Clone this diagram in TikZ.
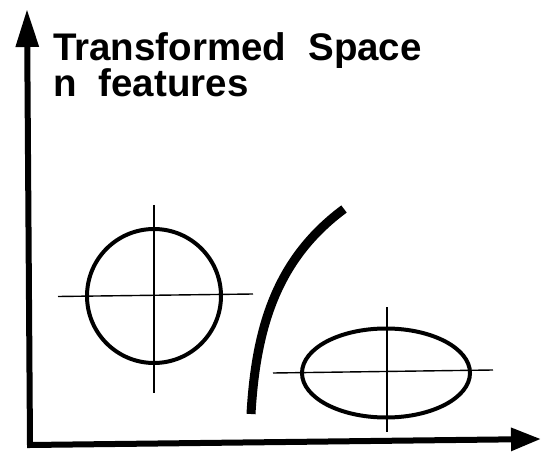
\documentclass[tikz,border=0pt]{standalone}
\usepackage{fontspec}
\setmainfont{Liberation Sans}
\usetikzlibrary{arrows.meta,shapes.geometric}
\tikzset{
  axisline/.style={line width=6pt, line join=miter},
  blob/.style={draw, line width=4pt, inner sep=0pt, outer sep=0pt},
  crossline/.style={line width=1.4pt},
  boundary/.style={line width=9pt, line cap=butt},
  title/.style={anchor=base west, inner sep=0pt, align=left, font=\fontsize{38.5}{34}\selectfont\bfseries}
}
\begin{document}
\begin{tikzpicture}[x=1pt,y=-1pt]
\useasboundingbox (0,0) rectangle (542,452);
% axes
\coordinate (origin) at (30,445);
\coordinate (ytip) at (27,9);
\coordinate (xtip) at (541,439);
\draw[axisline, {Triangle[length=38pt,width=22pt]}-{Triangle[length=30pt,width=22pt]}]
  (ytip) -- (origin) -- (xtip);
% title
\node[title] (t1) at (53,97) {\spaceskip=22pt Transformed Space\\\spaceskip=22pt n features};
% circle class
\node[blob, circle, minimum size=134pt] (c1) at (154,296) {};
\coordinate (c1l) at (58,296.5);
\coordinate (c1r) at (253,294);
\coordinate (c1t) at (154,205);
\coordinate (c1b) at (154,393);
\draw[crossline] (c1l) -- (c1r);
\draw[crossline] (c1t) -- (c1b);
% ellipse class
\node[blob, ellipse, minimum width=168pt, minimum height=89pt] (e1) at (386,373) {};
\coordinate (e1l) at (273,373);
\coordinate (e1r) at (493,370);
\coordinate (e1t) at (387,307);
\coordinate (e1b) at (387,432);
\draw[crossline] (e1l) -- (e1r);
\draw[crossline] (e1t) -- (e1b);
% decision boundary
\coordinate (bb) at (251,414);
\coordinate (bt) at (344,209);
\draw[boundary] (bb) .. controls (256,325) and (278,258) .. (bt);
\end{tikzpicture}
\end{document}
